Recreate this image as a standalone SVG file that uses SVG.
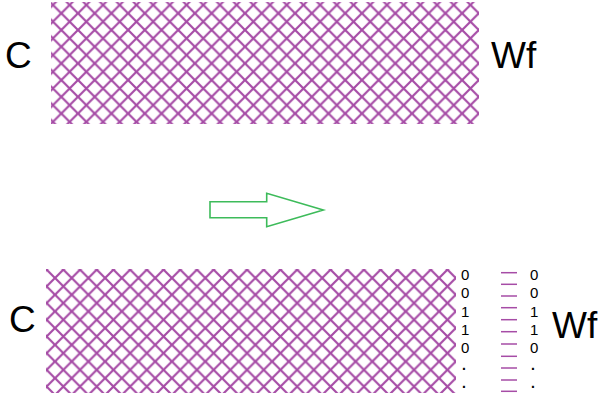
<svg xmlns="http://www.w3.org/2000/svg" width="604" height="393" viewBox="0 0 604 393">
<style>
.lbl{font-family:"Liberation Sans",Arial,sans-serif;fill:#000}
.big{font-size:37px}
.num{font-size:15px}
.dot{font-size:14px;font-weight:bold}
.dash{stroke:#a64ca6;stroke-width:1.5}
</style>
<defs>
<pattern id="hatchA" patternUnits="userSpaceOnUse" x="61.3" y="13.3" width="16.7" height="16.7">
<path d="M0,0 L16.7,16.7 M16.7,0 L0,16.7" stroke="#a64ca6" stroke-width="2.2" fill="none"/>
</pattern>
<pattern id="hatchB" patternUnits="userSpaceOnUse" x="55" y="278" width="16.7" height="16.7">
<path d="M0,0 L16.7,16.7 M16.7,0 L0,16.7" stroke="#a64ca6" stroke-width="2.2" fill="none"/>
</pattern>
</defs>
<rect width="604" height="393" fill="#fff"/>
<g id="top">
<rect x="51" y="2" width="428" height="122" fill="url(#hatchA)"/>
<text class="lbl big" x="5" y="68">C</text>
<text class="lbl big" x="491" y="68">Wf</text>
</g>
<g id="arrow">
<polygon points="210,201.7 266.7,201.7 266.7,193.3 323.3,210 266.7,226.7 266.7,217.7 210,217.7" fill="#fff" stroke="#3dbb5a" stroke-width="1.6"/>
</g>
<g id="bottom">
<rect x="46" y="269" width="410" height="124" fill="url(#hatchB)"/>
<text class="lbl big" x="9" y="332">C</text>
<text class="lbl big" x="552" y="338">Wf</text>
</g>
<g id="col1" class="lbl num">
<text x="461" y="280">0</text>
<text x="461" y="298">0</text>
<text x="461" y="317">1</text>
<text x="461" y="335">1</text>
<text x="461" y="353">0</text>
<text class="dot" x="462" y="370">.</text>
<text class="dot" x="462" y="388">.</text>
</g>
<g id="dashes">
<line class="dash" x1="501" y1="272.7" x2="517" y2="272.7"/>
<line class="dash" x1="501" y1="284.3" x2="517" y2="284.3"/>
<line class="dash" x1="501" y1="296" x2="517" y2="296"/>
<line class="dash" x1="501" y1="307.7" x2="517" y2="307.7"/>
<line class="dash" x1="501" y1="319.7" x2="517" y2="319.7"/>
<line class="dash" x1="501" y1="331.7" x2="517" y2="331.7"/>
<line class="dash" x1="501" y1="344" x2="517" y2="344"/>
<line class="dash" x1="501" y1="356.3" x2="517" y2="356.3"/>
<line class="dash" x1="501" y1="368" x2="517" y2="368"/>
<line class="dash" x1="501" y1="380" x2="517" y2="380"/>
<line class="dash" x1="501" y1="391.3" x2="517" y2="391.3"/>
</g>
<g id="col2" class="lbl num">
<text x="530" y="280">0</text>
<text x="530" y="298">0</text>
<text x="530" y="317">1</text>
<text x="530" y="335">1</text>
<text x="530" y="353">0</text>
<text class="dot" x="531" y="370">.</text>
<text class="dot" x="531" y="388">.</text>
</g>
</svg>
